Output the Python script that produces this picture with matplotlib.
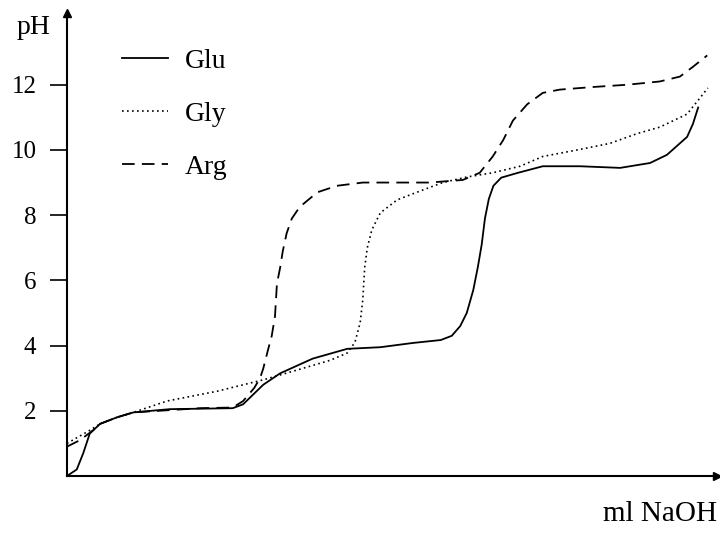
import matplotlib
matplotlib.use('Agg')
import matplotlib.pyplot as plt

plt.rcParams['font.family'] = ['Liberation Serif', 'DejaVu Serif']

# titration curves (x in ml NaOH, arbitrary units)
glu_x = [0.0, 0.15, 0.25, 0.35, 0.51, 0.77, 1.02, 1.58, 2.55, 2.71, 3.02, 3.28, 3.78,
         4.31, 4.82, 5.32, 5.75, 5.92, 6.05, 6.15, 6.25, 6.32, 6.38, 6.43, 6.49, 6.56,
         6.68, 6.94, 7.32, 7.89, 8.51, 8.97, 9.23, 9.54, 9.63, 9.71]
glu_ph = [0.0, 0.2, 0.7, 1.3, 1.6, 1.8, 1.95, 2.05, 2.08, 2.2, 2.8, 3.15, 3.6,
          3.9, 3.95, 4.08, 4.17, 4.3, 4.6, 5.0, 5.7, 6.4, 7.1, 7.9, 8.5, 8.9,
          9.15, 9.3, 9.5, 9.5, 9.45, 9.6, 9.85, 10.4, 10.8, 11.3]

gly_x = [0.0, 0.35, 0.51, 0.77, 1.02, 1.54, 2.31, 3.02, 3.54, 4.05, 4.31, 4.43, 4.51,
         4.55, 4.58, 4.62, 4.69, 4.82, 5.08, 5.38, 5.78, 6.15, 6.55, 6.97, 7.32, 7.85,
         8.35, 8.77, 9.12, 9.54, 9.86]
gly_ph = [1.0, 1.4, 1.6, 1.8, 1.95, 2.3, 2.6, 2.95, 3.25, 3.55, 3.77, 4.1, 4.7,
          5.4, 6.4, 7.0, 7.55, 8.07, 8.47, 8.7, 9.0, 9.17, 9.3, 9.5, 9.8, 10.0,
          10.2, 10.5, 10.7, 11.1, 11.9]

arg_x = [0.0, 0.2, 0.4, 0.51, 0.77, 1.02, 2.05, 2.55, 2.71, 2.88, 2.97, 3.02, 3.09,
         3.15, 3.2, 3.23, 3.28, 3.32, 3.38, 3.46, 3.58, 3.85, 4.15, 4.55, 5.58, 6.09,
         6.35, 6.55, 6.71, 6.86, 7.08, 7.32, 7.58, 8.09, 8.62, 9.12, 9.43, 9.63, 9.85]
arg_ph = [0.9, 1.1, 1.4, 1.6, 1.8, 1.95, 2.08, 2.1, 2.3, 2.7, 3.0, 3.3, 3.85,
          4.3, 4.9, 5.9, 6.4, 6.9, 7.45, 7.9, 8.25, 8.7, 8.9, 9.0, 9.0, 9.08,
          9.3, 9.8, 10.3, 10.9, 11.4, 11.75, 11.85, 11.93, 12.0, 12.1, 12.25, 12.55, 12.9]

yticks = [2, 4, 6, 8, 10, 12]

fig = plt.figure(figsize=(7.2, 5.35), dpi=100)
ax = fig.add_axes([67/720, 59/535, 650/720, 463/535])

ax.plot(glu_x, glu_ph, color='black', lw=1.3, ls='-', label='Glu')
ax.plot(gly_x, gly_ph, color='black', lw=1.2, ls=(0, (1, 2)), label='Gly')
ax.plot(arg_x, arg_ph, color='black', lw=1.3, ls=(0, (7, 4)), label='Arg')

ax.set_xlim(0, 10)
ax.set_ylim(0, 14.2)
ax.set_xticks([])
ax.set_yticks(yticks)
ax.set_yticklabels([str(t) for t in yticks], fontsize=18)
ax.tick_params(axis='y', direction='out', length=12, width=1.2, pad=10)

for s in ['top', 'right']:
    ax.spines[s].set_visible(False)
for s in ['left', 'bottom']:
    ax.spines[s].set_linewidth(1.5)

# arrow heads on the axes
ax.plot(1, 0, '>k', ms=6, transform=ax.transAxes, clip_on=False)
ax.plot(0, 1, '^k', ms=6, transform=ax.transAxes, clip_on=False)

ax.legend(loc='center left', bbox_to_anchor=(122/720, 1 - 114/535),
          bbox_transform=fig.transFigure, frameon=False, fontsize=20,
          handlelength=1.65, handletextpad=0.6, labelspacing=1.0,
          borderpad=0, borderaxespad=0)

fig.text(34/720, 1 - 28/535, 'pH', fontsize=20, ha='center', va='center')
fig.text(717/720, 1 - 514/535, 'ml NaOH', fontsize=21, ha='right', va='center')

fig.savefig('out.png', dpi=100)
